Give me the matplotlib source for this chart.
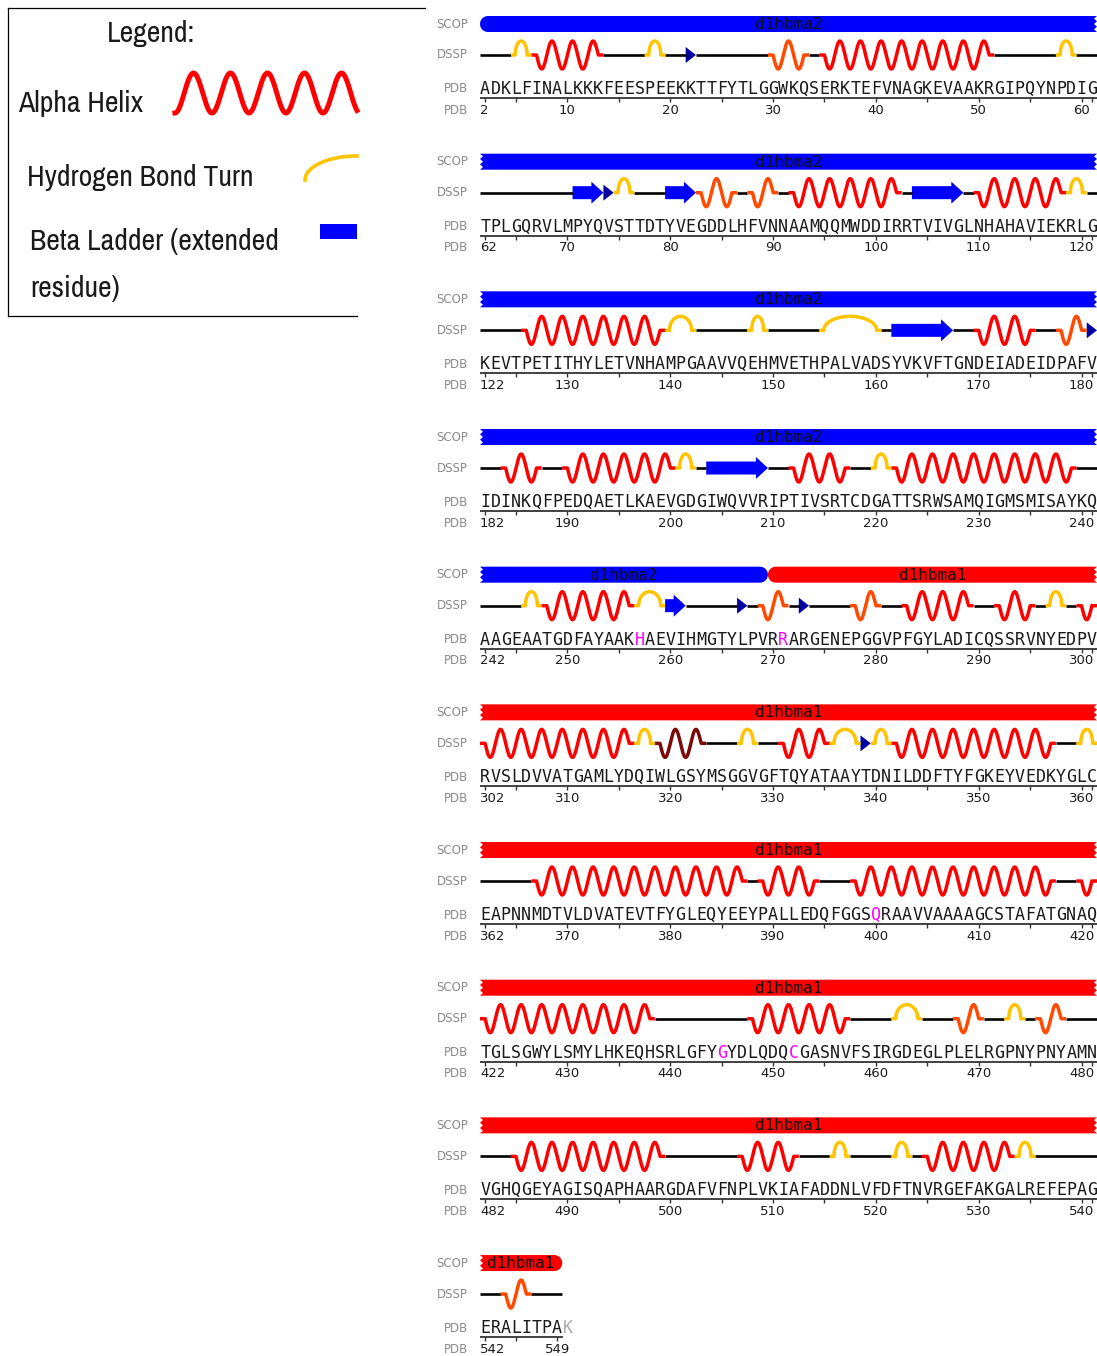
import matplotlib
matplotlib.use("Agg")
import matplotlib.pyplot as plt
import numpy as np
from matplotlib import font_manager as fm
from matplotlib.patches import Polygon, Rectangle
from matplotlib.transforms import blended_transform_factory

W, H = 1097, 1356

# ---- data ----
first_res = 2
last_res = 549
per_row = 60
sequence = (
    "ADKLFINALKKKFEESPEEKKTTFYTLGGWKQSERKTEFVNAGKEVAAKRGIPQYNPDIG"
    "TPLGQRVLMPYQVSTTDTYVEGDDLHFVNNAAMQQMWDDIRRTVIVGLNHAHAVIEKRLG"
    "KEVTPETITHYLETVNHAMPGAAVVQEHMVETHPALVADSYVKVFTGNDEIADEIDPAFV"
    "IDINKQFPEDQAETLKAEVGDGIWQVVRIPTIVSRTCDGATTSRWSAMQIGMSMISAYKQ"
    "AAGEAATGDFAYAAKHAEVIHMGTYLPVRRARGENEPGGVPFGYLADICQSSRVNYEDPV"
    "RVSLDVVATGAMLYDQIWLGSYMSGGVGFTQYATAAYTDNILDDFTYFGKEYVEDKYGLC"
    "EAPNNMDTVLDVATEVTFYGLEQYEEYPALLEDQFGGSQRAAVVAAAAGCSTAFATGNAQ"
    "TGLSGWYLSMYLHKEQHSRLGFYGYDLQDQCGASNVFSIRGDEGLPLELRGPNYPNYAMN"
    "VGHQGEYAGISQAPHAARGDAFVFNPLVKIAFADDNLVFDFTNVRGEFAKGALREFEPAG"
    "ERALITPA"
)
unobserved_tail = "K"
highlighted = [257, 271, 400, 445, 452]

# DSSP segments (first, last residue)
alpha_helix = [(7, 13), (35, 51), (92, 102), (110, 118), (126, 139), (170, 175),
               (184, 187), (190, 200), (212, 217), (222, 239), (248, 256),
               (283, 289), (292, 295), (300, 316), (331, 335), (342, 357),
               (367, 387), (389, 394), (398, 417), (420, 438), (448, 457),
               (485, 499), (507, 512), (525, 533)]
helix_310 = [(30, 33), (83, 86), (88, 90), (178, 180), (269, 271), (278, 280),
             (468, 470), (476, 478), (544, 546)]
pi_helix = [(319, 323)]
turns = [(5, 6), (18, 19), (58, 59), (75, 76), (119, 120), (140, 142), (148, 149),
         (155, 160), (201, 202), (220, 221), (246, 247), (257, 259), (297, 298),
         (317, 318), (327, 328), (336, 338), (340, 341), (360, 361), (462, 464),
         (473, 474), (516, 517), (522, 523), (534, 535)]
strands = [(71, 73), (80, 82), (104, 108), (162, 167), (204, 209), (260, 261)]
bridges = [22, 74, 181, 267, 273, 339]

scop_names = ["d1hbma2", "d1hbma1"]
scop_first = [2, 270]
scop_last = [269, 549]
scop_colors = ["#0000ff", "#ff0000"]

legend_lines = ["Legend:", "Alpha Helix", "Hydrogen Bond Turn",
                "Beta Ladder (extended", "residue)"]

# ---- layout (pixels) ----
row_top = 24
row_step = 137.67
seq_left = 480
seq_width = 617
px_per_res = seq_width / per_row
DSSP_Y, SEQ_Y, RULER_Y, NUM_Y = 31, 65, 74, 86
AMP, TURN_H = 14, 14

fig = plt.figure(figsize=(W / 100, H / 100), dpi=100)
fig.patch.set_facecolor("white")

helix_colors = {"H": "#ff0000", "G": "#ff4a00", "I": "#7a0a0a"}


def clip(seg, lo, hi):
    a, b = max(seg[0], lo), min(seg[1], hi)
    return (a, b) if a <= b else None


def bar_poly(x0, x1, round_left, round_right):
    h = 8
    r = h / px_per_res
    d = 3 / px_per_res
    pts = []
    if round_right:
        ang = np.linspace(np.pi / 2, -np.pi / 2, 20)
        pts += list(zip(x1 - r + r * np.cos(ang), -h * np.sin(ang)))
    else:
        ys = np.linspace(-h, h, 7)
        pts += [(x1 - (d if i % 2 else 0), y) for i, y in enumerate(ys)]
    if round_left:
        ang = np.linspace(-np.pi / 2, -3 * np.pi / 2, 20)
        pts += list(zip(x0 + r + r * np.cos(ang), -h * np.sin(ang)))
    else:
        ys = np.linspace(h, -h, 7)
        pts += [(x0 + (d if i % 2 else 0), y) for i, y in enumerate(ys)]
    return pts


n_rows = int(np.ceil((last_res - first_res + 1) / per_row))
for r in range(n_rows):
    start = first_res + r * per_row
    end = min(start + per_row - 1, last_res)
    yc = row_top + r * row_step
    ax = fig.add_axes([seq_left / W, 1 - (yc + 95) / H, seq_width / W, 115 / H])
    ax.set_xlim(start - 0.5, start + per_row - 0.5)
    ax.set_ylim(95, -20)
    ax.axis("off")
    lab_tr = blended_transform_factory(ax.transAxes, ax.transData)
    for txt, yy in [("SCOP", 0), ("DSSP", DSSP_Y), ("PDB", SEQ_Y), ("PDB", NUM_Y)]:
        ax.text(-12 / seq_width, yy, txt, transform=lab_tr, ha="right", va="center",
                fontsize=8.5, color="#8a8a8a")

    # SCOP domains
    for name, a0, b0, col in zip(scop_names, scop_first, scop_last, scop_colors):
        seg = clip((a0, b0), start, end)
        if seg is None:
            continue
        a, b = seg
        pts = bar_poly(a - 0.5, b + 0.5, a0 >= start, b0 <= end)
        ax.add_patch(Polygon(pts, closed=True, facecolor=col, edgecolor="none"))
        ax.text((a + b) / 2, 0.5, name, ha="center", va="center", fontsize=11.5,
                family="DejaVu Sans Mono", color="#111111")

    # DSSP
    covered = np.zeros(end - start + 1, bool)
    for segs in [alpha_helix, helix_310, pi_helix, turns, strands,
                 [(b, b) for b in bridges]]:
        for s in segs:
            c = clip(s, start, end)
            if c:
                covered[c[0] - start:c[1] - start + 1] = True
    i = 0
    while i < len(covered):
        if not covered[i]:
            j = i
            while j + 1 < len(covered) and not covered[j + 1]:
                j += 1
            ax.plot([start + i - 0.5, start + j + 0.5], [DSSP_Y, DSSP_Y],
                    color="black", lw=1.9, solid_capstyle="butt")
            i = j + 1
        else:
            i += 1

    for kind, segs in [("H", alpha_helix), ("G", helix_310), ("I", pi_helix)]:
        for s in segs:
            c = clip(s, start, end)
            if not c:
                continue
            a, b = c
            x = np.linspace(a - 0.5, b + 0.5, 60 * (b - a + 1))
            t = np.clip(x - a, 0, b - a)
            y = DSSP_Y + AMP * np.sin(np.pi * t)
            ax.plot(x, y, color=helix_colors[kind], lw=2.5, solid_capstyle="butt")

    for s in turns:
        c = clip(s, start, end)
        if not c:
            continue
        a, b = c
        x0, x1 = a - 0.5, b + 0.5
        f = 0.42
        xs = np.linspace(x0 + f, x1 - f, 80)
        u = (xs - (x0 + x1) / 2) / ((x1 - x0) / 2 - f)
        ys = DSSP_Y - TURN_H * np.sqrt(np.clip(1 - u ** 2, 0, 1))
        ax.plot(np.r_[x0, xs, x1], np.r_[DSSP_Y, ys, DSSP_Y], color="#ffc400",
                lw=2.5, solid_capstyle="butt")

    for s in strands:
        c = clip(s, start, end)
        if not c:
            continue
        a, b = c
        x0, x1 = a - 0.5, b + 0.5
        hl = 12 / px_per_res
        pts = [(x0, DSSP_Y - 6.5), (x1 - hl, DSSP_Y - 6.5), (x1 - hl, DSSP_Y - 11),
               (x1, DSSP_Y), (x1 - hl, DSSP_Y + 11), (x1 - hl, DSSP_Y + 6.5),
               (x0, DSSP_Y + 6.5)]
        ax.add_patch(Polygon(pts, closed=True, facecolor="#0000ff", edgecolor="none"))

    for bb in bridges:
        if start <= bb <= end:
            pts = [(bb - 0.5, DSSP_Y - 8), (bb + 0.5, DSSP_Y), (bb - 0.5, DSSP_Y + 8)]
            ax.add_patch(Polygon(pts, closed=True, facecolor="#0000a0", edgecolor="none"))

    # sequence
    for res in range(start, end + 1):
        letter = sequence[res - first_res]
        col = "#ff00ff" if res in highlighted else "#1a1a1a"
        ax.text(res, SEQ_Y, letter, ha="center", va="center", fontsize=12,
                family="DejaVu Sans Mono", color=col)
    if end == last_res:
        for k, letter in enumerate(unobserved_tail):
            ax.text(end + 1 + k, SEQ_Y, letter, ha="center", va="center", fontsize=12,
                    family="DejaVu Sans Mono", color="#aaaaaa")

    # ruler
    ax.plot([start - 0.5, end + 0.5], [RULER_Y, RULER_Y], color="#333333", lw=1.3)
    ticks = sorted(set([start, end] + [v for v in range(start, end + 1) if v % 5 == 0]))
    ax.vlines(ticks, RULER_Y, RULER_Y + 4, color="#333333", lw=1)
    ax.text(start - 0.5, NUM_Y, str(start), ha="left", va="center", fontsize=9.5,
            color="#1a1a1a")
    labels = [v for v in range(start + 1, end + 1) if v % 10 == 0]
    if end == last_res:
        labels.append(end)
    for v in labels:
        ax.text(v, NUM_Y, str(v), ha="center", va="center", fontsize=9.5,
                color="#1a1a1a")

# ---- legend panel ----
ax0 = fig.add_axes([0, 0, 1, 1], zorder=-1)
ax0.set_xlim(0, W)
ax0.set_ylim(H, 0)
ax0.axis("off")
ax0.plot([8, 8], [8, 316], color="black", lw=0.9)
ax0.plot([8, 425], [8, 8], color="black", lw=0.9)
ax0.plot([8, 357], [316, 316], color="black", lw=0.9)

# pick the narrowest face that is installed for the legend lettering
narrow = None
for f in fm.fontManager.ttflist:
    nm = f.name.lower()
    st = str(f.stretch).lower()
    if ("narrow" in nm or "condensed" in nm or "condensed" in st) \
            and f.style == "normal" and f.weight in (400, "normal", "regular"):
        narrow = f
        if "condensed" in nm or "narrow" in nm:
            break
if narrow is not None:
    leg_prop = fm.FontProperties(fname=narrow.fname)
else:
    leg_prop = fm.FontProperties(family="DejaVu Sans")

leg_x = [107, 18, 27, 30, 30]
leg_y = [42, 112, 186, 250, 297]
renderer = fig.canvas.get_renderer()
probe = ax0.text(0, 0, legend_lines[1], fontproperties=leg_prop, fontsize=20)
size = 20 * 125 / probe.get_window_extent(renderer).width
probe.remove()
for txt, x, y in zip(legend_lines, leg_x, leg_y):
    ax0.text(x, y, txt, fontproperties=leg_prop, fontsize=size, color="#1a1a1a",
             va="baseline", ha="left")

xw = np.linspace(175, 357, 400)
ax0.plot(xw, 93 + 20 * np.cos(2 * np.pi * (xw - 175) / 37), color="#ff0000", lw=3.6)
th = np.linspace(np.pi, np.pi / 2, 60)
ax0.plot(357 + 52 * np.cos(th), 180 - 24 * np.sin(th), color="#ffc400", lw=2.6)
ax0.add_patch(Rectangle((320, 224), 37, 15, facecolor="#0000ff", edgecolor="none"))

fig.savefig("out.png", dpi=100)
